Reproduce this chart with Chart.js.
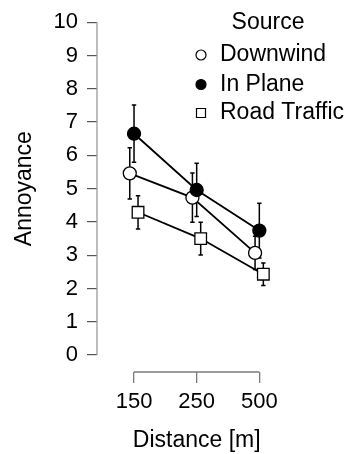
<!DOCTYPE html>
<html>
<head>
<meta charset="UTF-8">
<script src="https://cdn.jsdelivr.net/npm/chart.js"></script>
<style>
  html, body { margin: 0; padding: 0; background: #fff; }
  #wrap { width: 344px; height: 454px; }
</style>
</head>
<body>
<div id="wrap"><canvas id="chart" width="344" height="454"></canvas></div>
<script>
// data
const distances = ['150', '250', '500'];
const yTicks = [0, 1, 2, 3, 4, 5, 6, 7, 8, 9, 10];
const seriesNames = ['Downwind', 'In Plane', 'Road Traffic'];
const downwind = [5.46, 4.73, 3.07];
const downwindErr = [0.77, 0.74, 0.5];
const inPlane = [6.65, 4.96, 3.74];
const inPlaneErr = [0.86, 0.8, 0.82];
const roadTraffic = [4.29, 3.5, 2.43];
const roadTrafficErr = [0.5, 0.49, 0.34];

const FONT = '"Liberation Sans", Arial, sans-serif';
const AXIS_GREY = '#7a7a7a';

function pts(vals, shift) {
  return vals.map((v, i) => ({ x: i + 1 + shift, y: v }));
}

const datasets = [
  { label: seriesNames[0], data: pts(downwind, -0.068), err: downwindErr, order: 1,
    pointStyle: 'circle', pointRadius: 6.5, backgroundColor: '#fff' },
  { label: seriesNames[1], data: pts(inPlane, 0), err: inPlaneErr, order: 0,
    pointStyle: 'circle', pointRadius: 6.5, backgroundColor: '#000' },
  { label: seriesNames[2], data: pts(roadTraffic, 0.064), err: roadTrafficErr, order: 2,
    pointStyle: 'rect', pointRadius: 8.2, backgroundColor: '#fff' }
].map(d => Object.assign(d, {
  showLine: true, borderColor: '#000', borderWidth: 1.8,
  pointBorderColor: '#000', pointBorderWidth: 1.3, pointBackgroundColor: d.backgroundColor,
  pointHoverRadius: d.pointRadius
}));

// error bars go under the markers
const errorBars = {
  id: 'errorBars',
  beforeDatasetsDraw(chart) {
    const { ctx, scales: { x, y } } = chart;
    ctx.save();
    ctx.strokeStyle = '#000';
    ctx.lineWidth = 1.5;
    chart.data.datasets.forEach(ds => {
      ds.data.forEach((p, i) => {
        const px = x.getPixelForValue(p.x);
        const top = y.getPixelForValue(p.y + ds.err[i]);
        const bot = y.getPixelForValue(p.y - ds.err[i]);
        ctx.beginPath();
        ctx.moveTo(px, top); ctx.lineTo(px, bot);
        ctx.moveTo(px - 2.2, top); ctx.lineTo(px + 2.2, top);
        ctx.moveTo(px - 2.2, bot); ctx.lineTo(px + 2.2, bot);
        ctx.stroke();
      });
    });
    ctx.restore();
  }
};

// R-style axes, axis titles and legend
const extras = {
  id: 'extras',
  afterDraw(chart) {
    const { ctx, chartArea, scales: { x, y } } = chart;
    ctx.save();
    ctx.lineWidth = 1.3;
    ctx.strokeStyle = '#9a9a9a';
    ctx.beginPath();
    ctx.moveTo(chartArea.left, y.getPixelForValue(0));
    ctx.lineTo(chartArea.left, y.getPixelForValue(10));
    ctx.stroke();
    ctx.strokeStyle = AXIS_GREY;
    ctx.beginPath();
    ctx.moveTo(x.getPixelForValue(1), chartArea.bottom);
    ctx.lineTo(x.getPixelForValue(3), chartArea.bottom);
    ctx.stroke();

    ctx.fillStyle = '#000';
    ctx.font = '23px ' + FONT;
    ctx.textAlign = 'center';
    ctx.textBaseline = 'middle';
    ctx.fillText('Distance [m]', x.getPixelForValue(2), 441);

    ctx.translate(25, y.getPixelForValue(5));
    ctx.rotate(-Math.PI / 2);
    ctx.fillText('Annoyance', 0, 0);
    ctx.setTransform(1, 0, 0, 1, 0, 0);

    ctx.fillText('Source', 268, 23);
    ctx.textAlign = 'left';
    const rows = [55, 84.5, 113];
    chart.data.datasets.forEach((ds, i) => {
      const cy = rows[i];
      ctx.fillText(ds.label, 220, cy);
      ctx.beginPath();
      ctx.lineWidth = 1.2;
      ctx.strokeStyle = '#000';
      if (ds.pointStyle === 'rect') {
        ctx.rect(196.5, cy - 4.5, 9, 9);
      } else {
        ctx.arc(201, cy, 5, 0, Math.PI * 2);
      }
      ctx.fillStyle = ds.backgroundColor;
      ctx.fill();
      ctx.stroke();
      ctx.fillStyle = '#000';
    });
    ctx.restore();
  }
};

new Chart(document.getElementById('chart'), {
  type: 'scatter',
  data: { datasets: datasets },
  plugins: [errorBars, extras],
  options: {
    responsive: false,
    animation: false,
    layout: { padding: { top: 20, right: 14, bottom: 0, left: 0 } },
    plugins: { legend: { display: false }, tooltip: { enabled: false } },
    scales: {
      x: {
        type: 'linear',
        min: 0.409,
        max: 4.128,
        afterBuildTicks: s => { s.ticks = distances.map((d, i) => ({ value: i + 1 })); },
        afterFit: s => { s.height = 82; },
        grid: { drawOnChartArea: false, tickLength: 11, color: AXIS_GREY, lineWidth: 1.3 },
        border: { display: false },
        ticks: {
          padding: 6,
          color: '#000',
          font: { family: FONT, size: 22 },
          callback: v => distances[v - 1]
        }
      },
      y: {
        min: -0.508,
        max: 10,
        afterBuildTicks: s => { s.ticks = yTicks.map(v => ({ value: v })); },
        afterFit: s => { s.width = 97; },
        grid: { drawOnChartArea: false, tickLength: 10, color: '#555', lineWidth: 1.2 },
        border: { display: false },
        ticks: {
          padding: 9,
          color: '#000',
          font: { family: FONT, size: 22 },
          callback: v => String(v)
        }
      }
    }
  }
});
</script>
</body>
</html>
